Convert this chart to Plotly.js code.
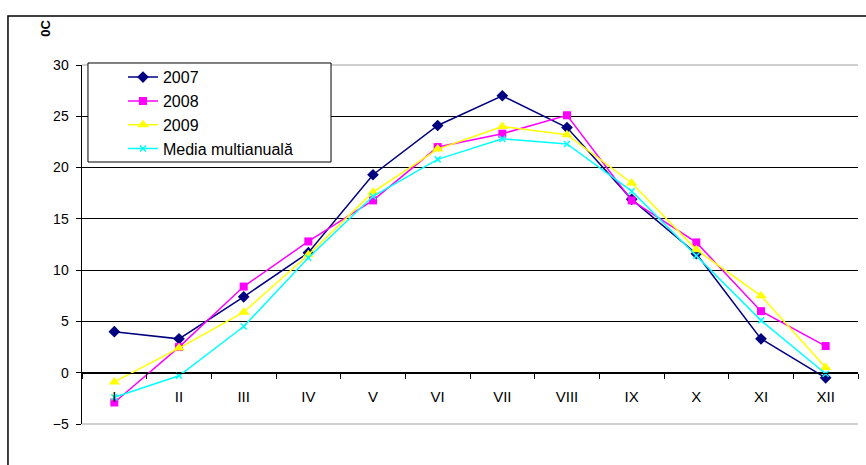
<!DOCTYPE html>
<html>
<head>
<meta charset="utf-8">
<script src="https://cdn.plot.ly/plotly-3.0.1.min.js"></script>
<style>html,body{margin:0;padding:0;background:#fff;}#chart{width:866px;height:465px;}</style>
</head>
<body>
<div id="chart"></div>
<script>
const months = ['I','II','III','IV','V','VI','VII','VIII','IX','X','XI','XII'];
const y2007 = [4.0, 3.3, 7.4, 11.7, 19.3, 24.1, 27.0, 23.9, 16.9, 11.6, 3.3, -0.5];
const y2008 = [-2.9, 2.5, 8.4, 12.8, 16.8, 22.0, 23.3, 25.1, 16.8, 12.7, 6.0, 2.6];
const y2009 = [-0.9, 2.4, 5.9, 11.5, 17.6, 21.8, 24.0, 23.2, 18.5, 12.0, 7.5, 0.5];
const media = [-2.4, -0.3, 4.5, 11.2, 17.2, 20.8, 22.8, 22.3, 17.7, 11.4, 5.1, -0.1];
const seriesNames = ['2007', '2008', '2009', 'Media multianuală'];
const yTicks = [-5, 0, 5, 10, 15, 20, 25, 30];

const font = 'Arial, "Liberation Sans", sans-serif';
const styles = [
  {color: '#000080', symbol: 'diamond', size: 9},
  {color: '#FF00FF', symbol: 'square', size: 8},
  {color: '#FFFF00', symbol: 'triangle-up', size: 10},
  {color: '#00FFFF', symbol: 'x-thin-open', size: 6}
];
const data = [y2007, y2008, y2009, media].map((vals, i) => ({
  type: 'scatter', mode: 'lines+markers', x: months, y: vals, name: seriesNames[i],
  line: {color: styles[i].color, width: 1.5},
  marker: {color: styles[i].color, symbol: styles[i].symbol, size: styles[i].size,
           line: {color: styles[i].color, width: i === 3 ? 1.5 : 0}},
  hoverinfo: 'skip'
}));

const layout = {
  width: 866, height: 465,
  margin: {l: 82, r: 8, t: 65, b: 41},
  paper_bgcolor: '#fff', plot_bgcolor: '#fff',
  font: {family: font, color: '#000', size: 14},
  showlegend: true,
  legend: {
    x: 0.0077, y: 1.0134, xanchor: 'left', yanchor: 'top',
    bgcolor: 'rgba(0,0,0,0)', borderwidth: 0,
    font: {family: font, size: 16, color: '#000'},
    indentation: 35
  },
  xaxis: {
    type: 'category', range: [-0.5, 11.5],
    anchor: 'free', position: 1/7,
    showline: true, linecolor: '#000', linewidth: 1.2,
    showgrid: false, zeroline: false,
    ticks: 'outside', tickson: 'boundaries', ticklen: 5, tickcolor: '#000', tickwidth: 1,
    ticklabelstandoff: 10,
    tickfont: {family: font, size: 15, color: '#000'}
  },
  yaxis: {
    range: [-5, 30], tickvals: yTicks,
    showline: true, linecolor: '#000', linewidth: 1.5,
    showgrid: true, gridcolor: '#000', gridwidth: 1,
    zeroline: false,
    ticks: 'outside', ticklen: 5, tickcolor: '#000',
    ticklabelstandoff: 4,
    tickfont: {family: font, size: 14, color: '#000'}
  },
  annotations: [{
    text: '<b>0C</b>', xref: 'paper', yref: 'paper', x: -0.048, y: 1.103,
    showarrow: false, textangle: -90, font: {family: font, size: 13, color: '#000'},
    xanchor: 'center', yanchor: 'middle'
  }],
  shapes: [
    {type: 'line', xref: 'paper', yref: 'paper', x0: 0, x1: 1, y0: 1, y1: 1, line: {color: '#c0c0c0', width: 1.5}, layer: 'above'},
    {type: 'line', xref: 'paper', yref: 'paper', x0: 0, x1: 1, y0: 0, y1: 0, line: {color: '#c0c0c0', width: 1.5}, layer: 'above'},
    {type: 'rect', xref: 'paper', yref: 'paper', x0: -0.0954, x1: 1.2, y0: -0.3, y1: 1.1365, line: {color: '#000', width: 1.5}, layer: 'above'},
    {type: 'rect', xref: 'paper', yref: 'paper', x0: 0.0077, x1: 0.3209, y0: 0.7298, y1: 1.0056, fillcolor: '#fff', line: {color: '#000', width: 1}, layer: 'above'}
  ]
};

Plotly.newPlot('chart', data, layout, {displayModeBar: false, staticPlot: true});
</script>
</body>
</html>
